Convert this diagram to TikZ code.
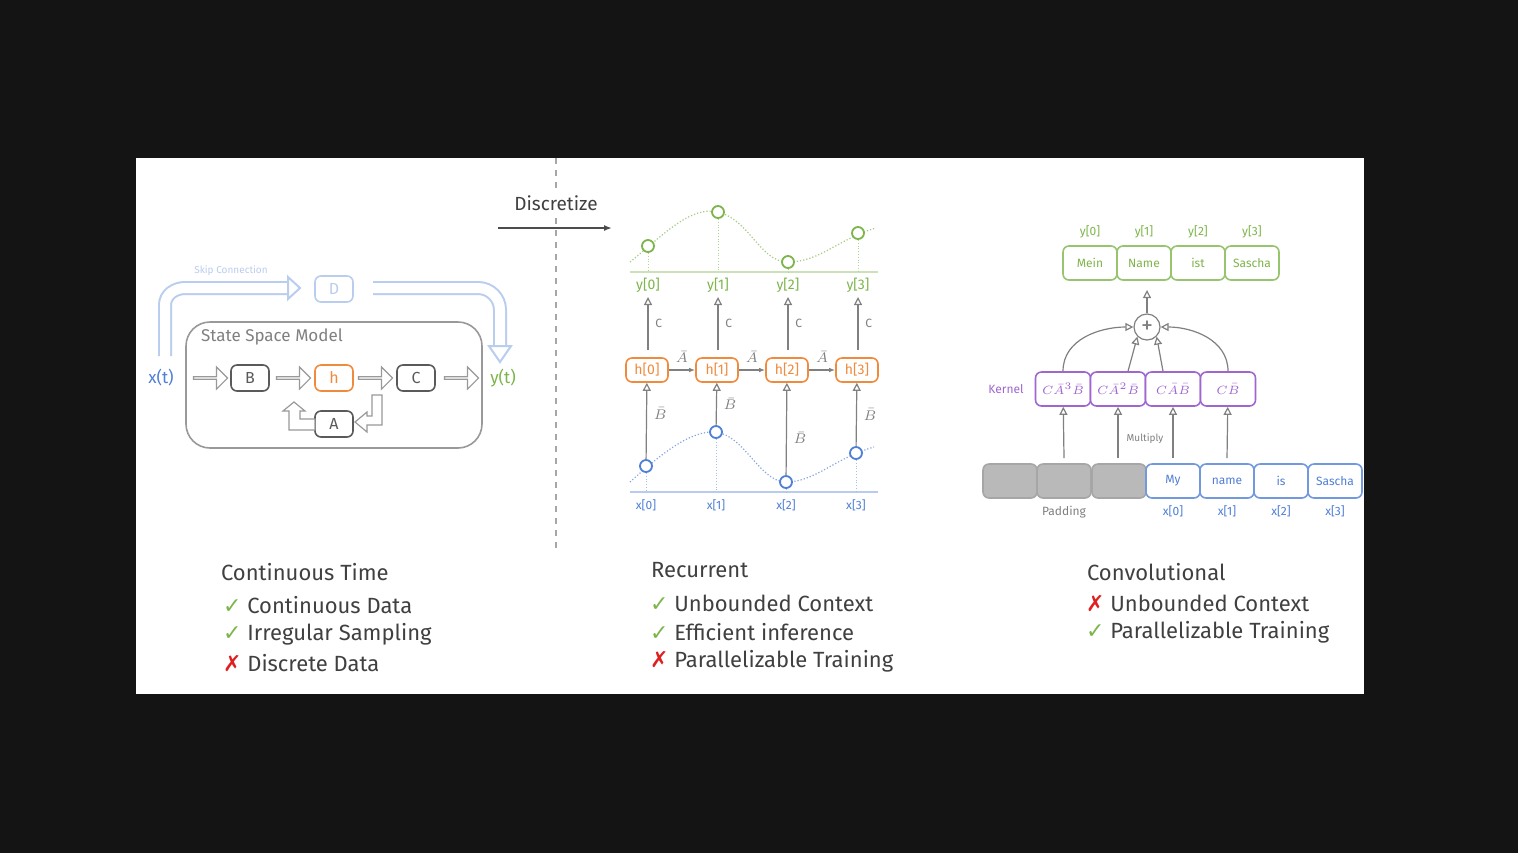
\documentclass[tikz,border=0pt]{standalone}
\usepackage{fontspec}
\setmainfont{Fira Sans}
\newfontfamily\symb{DejaVu Sans}
\usetikzlibrary{positioning, arrows.meta, shapes.arrows}
\definecolor{ssmgray}{HTML}{5A5A5A}
\definecolor{ssmorange}{HTML}{F08A3C}
\definecolor{ssmgreen}{HTML}{7DB54A}
\definecolor{ssmblue}{HTML}{4F7FD6}
\definecolor{ssmlight}{HTML}{B9CDEE}
\definecolor{ssmpurple}{HTML}{A066D0}
\definecolor{ssmred}{HTML}{E02020}
\newcommand{\ok}{{\symb\color{ssmgreen}✓}}
\newcommand{\no}{{\symb\color{ssmred}✗}}
\begin{document}
\begin{tikzpicture}[x=0.5pt, y=-0.5pt, every node/.style={font=\fontsize{7}{8}\selectfont}]

  \tikzstyle{module}=[rounded corners=3pt, draw, line width=0.8pt, align=center, inner sep=0pt, fill=white]
  \tikzstyle{ssm}=[module, draw=ssmgray, text=ssmgray, minimum width=19pt, minimum height=13pt, font=\fontsize{8}{9}\selectfont]
  \tikzstyle{hid}=[module, draw=ssmorange, text=ssmorange, minimum width=21pt, minimum height=12pt]
  \tikzstyle{outb}=[module, draw=ssmgreen!80, text=ssmgreen, minimum width=27pt, minimum height=17pt, font=\fontsize{6}{7}\selectfont]
  \tikzstyle{inb}=[module, draw=ssmblue!80, text=ssmblue, minimum width=27pt, minimum height=17pt, font=\fontsize{6}{7}\selectfont]
  \tikzstyle{pad}=[module, draw=gray!70, fill=gray!55, minimum width=27pt, minimum height=17pt]
  \tikzstyle{kern}=[module, draw=ssmpurple, text=ssmpurple, minimum width=27.5pt, minimum height=17pt, font=\fontsize{6}{7}\selectfont]
  \tikzstyle{harrow}=[single arrow, draw=gray!80, fill=white, line width=0.6pt, minimum height=17pt, minimum width=11pt, single arrow head extend=2.5pt, inner sep=0pt]
  \tikzstyle{pt}=[circle, draw, line width=0.9pt, fill=white, minimum size=6pt, inner sep=0pt]
  \tikzstyle{flow}=[draw=gray, line width=0.6pt, -{Triangle[open, length=4pt, width=4pt]}]
  \tikzstyle{head}=[anchor=west, font=\fontsize{11}{13}\selectfont, text=black!75]
  \tikzstyle{item}=[anchor=west, font=\fontsize{11}{13}\selectfont, text=black!75]

  % canvas
  \fill[black!92] (0,0) rectangle (1518,853);
  \fill[white] (136,158) rectangle (1364,694);

  % continuous time
  \coordinate (skip-a) at (165,356);
  \coordinate (skip-b) at (290,288);
  \coordinate (skip-c) at (373,288);
  \coordinate (skip-d) at (500,348);
  \draw[ssmlight, line width=7pt] (skip-a) -- (165,305) to[out=90, in=180] (185,288) -- (skip-b);
  \draw[white, line width=5pt] ([yshift=-1pt]skip-a) -- (165,305) to[out=90, in=180] (185,288) -- (skip-b);
  \draw[ssmlight, line width=7pt] (skip-c) -- (478,288) to[out=0, in=90] (500,310) -- (skip-d);
  \draw[white, line width=5pt] ([xshift=-1pt]skip-c) -- (478,288) to[out=0, in=90] (500,310) -- (skip-d);
  \filldraw[draw=ssmlight, fill=white, line width=1pt] (288,277) -- (300,288) -- (288,299) -- cycle;
  \filldraw[draw=ssmlight, fill=white, line width=1pt] (489,346) -- (500,362) -- (511,346) -- cycle;
  \node[ssmlight, font=\fontsize{5}{6}\selectfont] (skip) at (231,271) {Skip Connection};
  \node[ssm, draw=ssmlight, text=ssmlight] (D) at (334,289) {D};

  \draw[gray!80, line width=0.8pt, rounded corners=12pt] (186,322) rectangle (482,448);
  \node[anchor=west, text=gray, font=\fontsize{8.5}{10}\selectfont] (ssm) at (194,337) {State Space Model};

  \node[text=ssmblue, font=\fontsize{8.5}{10}\selectfont] (x) at (161,378) {x(t)};
  \node[text=ssmgreen, font=\fontsize{8.5}{10}\selectfont] (y) at (503,378) {y(t)};
  \node[ssm] (B) at (250,378) {B};
  \node[hid, minimum width=19pt, minimum height=13pt, font=\fontsize{8}{9}\selectfont] (h) at (334,378) {h};
  \node[ssm] (C) at (416,378) {C};
  \node[ssm] (A) at (334,424) {A};
  \foreach \n/\xa in {a1/210, a2/293, a3/375, a4/461}
    \node[harrow] (\n) at (\xa,378) {};

  \filldraw[draw=gray!80, fill=white, line width=0.6pt] (315,419) -- (300,419) -- (300,411) -- (305,411) -- (294,402) -- (283,411) -- (289,411) -- (289,430) -- (315,430) -- cycle;
  \filldraw[draw=gray!80, fill=white, line width=0.6pt] (372,395) -- (382,395) -- (382,425) -- (367,425) -- (367,432) -- (355,422) -- (367,412) -- (367,416) -- (372,416) -- cycle;

  % divider
  \draw[gray!70, dashed, line width=0.8pt] (556,158) -- (556,553);
  \node[fill=white, inner sep=1pt, text=black!75, font=\fontsize{9.5}{11}\selectfont] (disc) at (556,203) {Discretize};
  \coordinate (d-a) at (498,228);
  \coordinate (d-b) at (612,228);
  \draw[black!70, line width=0.8pt, -{Latex[length=4pt]}] (d-a) -- (d-b);

  % recurrent
  \draw[ssmgreen!40, line width=0.6pt] (630,272) -- (878,272);
  \draw[ssmblue!40, line width=0.6pt] (630,492) -- (878,492);
  \draw[ssmgreen!70, densely dotted, line width=0.6pt] (630,262) .. controls (660,238) and (690,205) .. (718,212)
    .. controls (750,220) and (760,262) .. (788,262) .. controls (820,262) and (840,238) .. (876,228);
  \draw[ssmblue!70, densely dotted, line width=0.6pt] (630,482) .. controls (660,455) and (690,430) .. (716,432)
    .. controls (745,436) and (760,482) .. (786,482) .. controls (815,482) and (835,458) .. (874,447);
  \foreach \i/\xa/\ya/\yb in {0/648/246/466, 1/718/212/432, 2/788/262/482, 3/858/233/453} {
    \node[pt, draw=ssmgreen] (y\i) at (\xa,\ya) {};
    \node[pt, draw=ssmblue] (x\i) at (\xa-2,\yb) {};
    \draw[ssmgreen!60, densely dotted] (y\i) -- (\xa,272);
    \draw[ssmblue!50, densely dotted] (x\i) -- (\xa-2,492);
    \node[text=ssmgreen] (yl\i) at (\xa,285) {y[\i]};
    \node[text=ssmblue, font=\fontsize{6}{7}\selectfont] (xl\i) at (\xa-2,505) {x[\i]};
    \node[hid] (h\i) at (\xa-1,370) {h[\i]};
    \coordinate (c\i) at (\xa,350);
    \draw[flow] (c\i) -- (\xa,297) node[midway, right, text=gray, font=\fontsize{6}{7}\selectfont] {C};
  }
  \draw[flow] (x0) -- (h0) node[pos=.6, right, text=gray] {$\bar B$};
  \draw[flow] (x1) -- (h1) node[midway, right, text=gray] {$\bar B$};
  \draw[flow] (x2) -- (h2) node[pos=.4, right, text=gray] {$\bar B$};
  \draw[flow] (x3) -- (h3) node[midway, right, text=gray] {$\bar B$};
  \foreach \a/\b in {0/1, 1/2, 2/3}
    \draw[gray, line width=0.6pt, -{Latex[length=3pt]}] (h\a) -- (h\b) node[midway, above, text=gray] {$\bar A$};

  % convolutional
  \foreach \i/\w/\xa in {0/Mein/1090, 1/Name/1144, 2/ist/1198, 3/Sascha/1252} {
    \node[outb] (o\i) at (\xa,263) {\w};
    \node[text=ssmgreen, font=\fontsize{6}{7}\selectfont, above=0pt of o\i] (ol\i) {y[\i]};
  }
  \node[circle, draw=gray, line width=0.6pt, minimum size=13pt, inner sep=0pt, text=gray, font=\fontsize{12}{12}\selectfont] (plus) at (1147,327) {+};
  \draw[flow] (plus) -- (1147,290);

  \node[kern] (k0) at (1063,389) {$C\bar A^3\bar B$};
  \node[kern] (k1) at (1118,389) {$C\bar A^2\bar B$};
  \node[kern] (k2) at (1173,389) {$C\bar A\bar B$};
  \node[kern] (k3) at (1228,389) {$C\bar B$};
  \node[text=ssmpurple, font=\fontsize{6}{7}\selectfont, left=2pt of k0] (kernel) {Kernel};

  \draw[flow] (k0.north) to[out=90, in=180] (plus.west);
  \draw[flow] (k3.north) to[out=90, in=0] (plus.east);
  \draw[flow] ([xshift=5pt]k1.north) -- (plus.south west);
  \draw[flow] ([xshift=-5pt]k2.north) -- (plus.south east);

  \node[pad] (p0) at (1010,481) {};
  \node[pad] (p1) at (1064,481) {};
  \node[pad] (p2) at (1119,481) {};
  \foreach \i/\w/\xa in {0/My/1173, 1/name/1227, 2/is/1281, 3/Sascha/1335} {
    \node[inb] (in\i) at (\xa,481) {\w};
    \node[text=ssmblue, font=\fontsize{6}{7}\selectfont, below=0pt of in\i] (il\i) {x[\i]};
  }
  \node[text=gray, font=\fontsize{6}{7}\selectfont, below=0pt of p1] (padding) {Padding};
  \foreach \i/\xa in {0/1064, 1/1118, 2/1173, 3/1227}
    \draw[flow] (\xa,458) -- (k\i);
  \node[text=gray, font=\fontsize{5}{6}\selectfont] (mult) at (1145,439) {Multiply};

  % summaries
  \node[head] (t1) at (214,572) {Continuous Time};
  \node[item] (t1a) at (216,605) {\ok\ Continuous Data};
  \node[item] (t1b) at (216,634) {\ok\ Irregular Sampling};
  \node[item] (t1c) at (216,663) {\no\ Discrete Data};
  \node[head] (t2) at (644,570) {Recurrent};
  \node[item] (t2a) at (643,603) {\ok\ Unbounded Context};
  \node[item] (t2b) at (643,632) {\ok\ Efficient inference};
  \node[item] (t2c) at (643,661) {\no\ Parallelizable Training};
  \node[head] (t3) at (1080,572) {Convolutional};
  \node[item] (t3a) at (1079,603) {\no\ Unbounded Context};
  \node[item] (t3b) at (1079,632) {\ok\ Parallelizable Training};
\end{tikzpicture}
\end{document}
